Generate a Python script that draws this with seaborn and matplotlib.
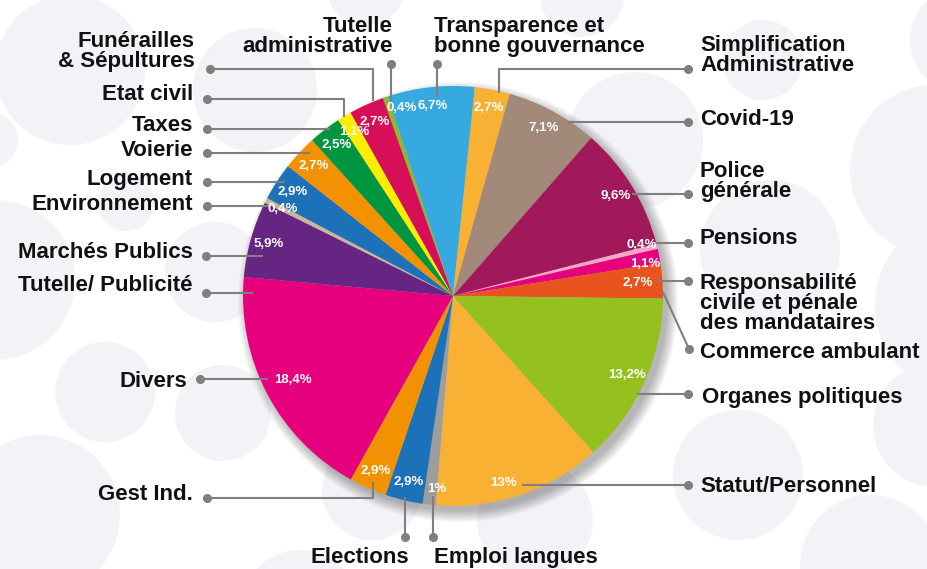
import numpy as np
import matplotlib
matplotlib.use("Agg")
import matplotlib.pyplot as plt
from matplotlib.patches import Circle
import seaborn as sns

# ---------------- data ----------------
categories = [
    "Tutelle\nadministrative", "Transparence et\nbonne gouvernance",
    "Simplification\nAdministrative", "Covid-19", "Police\ngénérale",
    "Pensions", "Commerce ambulant",
    "Responsabilité\ncivile et pénale\ndes mandataires",
    "Organes politiques", "Statut/Personnel", "Emploi langues", "Elections",
    "Gest Ind.", "Divers", "Tutelle/ Publicité", "Marchés Publics",
    "Environnement", "Logement", "Voierie", "Taxes", "Etat civil",
    "Funérailles\n& Sépultures",
]
values = [0.4, 6.7, 2.7, 7.1, 9.6, 0.4, 1.1, 2.7, 13.2, 13.0, 1.0, 2.9,
          2.9, 18.4, 0.0, 5.9, 0.4, 2.9, 2.7, 2.5, 1.1, 2.7]
slice_colors = ["#8DBB25", "#36A9E1", "#F8B133", "#A38979", "#A2195B",
                "#F2A7C6", "#E6007E", "#E9531D", "#95C11F", "#F8B133",
                "#9D9D9C", "#1D71B8", "#F39200", "#E6007E", "#7A2A7E",
                "#662483", "#C9B79C", "#1D71B8", "#F39200", "#009640",
                "#FFED00", "#D60F58"]

# ---------------- layout (pixel coordinates, y from top) ----------------
W, H = 928, 569
CX, CY, R = 453, 296, 210
# text: (x, baseline of LAST line, ha), connector path (dot first)
callouts = {
    "Tutelle\nadministrative": ((393, 52, "right"), [(391, 64), (391, 101)]),
    "Transparence et\nbonne gouvernance": ((434, 52, "left"), [(437, 64), (437, 97)]),
    "Simplification\nAdministrative": ((700, 71, "left"), [(688, 69), (499, 69), (499, 93)]),
    "Covid-19": ((700, 125, "left"), [(688, 122), (567, 122)]),
    "Police\ngénérale": ((700, 197, "left"), [(688, 194), (632, 194)]),
    "Pensions": ((700, 244, "left"), [(688, 243), (655, 243)]),
    "Responsabilité\ncivile et pénale\ndes mandataires": ((700, 329, "left"), [(688, 281), (657, 281)]),
    "Commerce ambulant": ((700, 358, "left"), [(689, 349), (663, 292)]),
    "Organes politiques": ((702, 403, "left"), [(688, 394), (637, 394)]),
    "Statut/Personnel": ((700, 492, "left"), [(688, 485), (522, 485)]),
    "Emploi langues": ((434, 563, "left"), [(433, 537), (433, 496)]),
    "Elections": ((360, 563, "center"), [(405, 537), (405, 497)]),
    "Gest Ind.": ((193, 500, "right"), [(207, 498), (373, 498), (373, 482)]),
    "Divers": ((187, 387, "right"), [(200, 379), (268, 379)]),
    "Tutelle/ Publicité": ((193, 291, "right"), [(206, 293), (253, 293)]),
    "Marchés Publics": ((193, 258, "right"), [(206, 256), (263, 256)]),
    "Environnement": ((193, 210, "right"), [(207, 206), (270, 206)]),
    "Logement": ((193, 185, "right"), [(207, 182), (285, 182)]),
    "Voierie": ((193, 156, "right"), [(207, 153), (310, 153)]),
    "Taxes": ((193, 131, "right"), [(207, 129), (330, 129)]),
    "Etat civil": ((193, 100, "right"), [(207, 99), (344, 99), (344, 117)]),
    "Funérailles\n& Sépultures": ((195, 67, "right"), [(210, 69), (373, 69), (373, 101)]),
}
# percentage-label nudges: (clockwise angle offset in degrees, radius fraction)
pct_nudge = {
    "Tutelle\nadministrative": (3.4, 0.93),
    "Pensions": (-1.5, 0.93),
    "Commerce ambulant": (1.5, 0.93),
    "Responsabilité\ncivile et pénale\ndes mandataires": (0.0, 0.88),
    "Statut/Personnel": (3.5, 0.92),
    "Emploi langues": (-1.8, 0.92),
    "Divers": (0.0, 0.86),
}
bubbles = [(70, 70, 75), (-10, 140, 28), (255, 90, 62), (366, -15, 40),
           (582, -5, 42), (635, 140, 68), (763, 60, 40), (965, 40, 55),
           (935, 170, 85), (770, 250, 70), (965, 305, 90), (105, 392, 50),
           (223, 413, 48), (40, 515, 80), (738, 475, 65), (935, 425, 62),
           (870, 565, 70), (535, 520, 58), (372, 490, 50), (300, 610, 60),
           (215, 272, 50), (126, 203, 28), (-5, 280, 80)]


def Y(y):
    return H - y


sns.set_theme(style="white")
plt.rcParams["font.family"] = ["Liberation Sans", "DejaVu Sans"]
palette = sns.color_palette(slice_colors)

fig = plt.figure(figsize=(W / 100, H / 100), dpi=100)
ax = fig.add_axes([0, 0, 1, 1])

# background bubbles
for bx, by, br in bubbles:
    ax.add_patch(Circle((bx, Y(by)), br, facecolor="#F3F2F6", edgecolor="none", zorder=0))

# soft shadow
for i in range(10):
    ax.add_patch(Circle((CX + 5, Y(CY) - 6), R + 10 - i * 1.2, facecolor="#000000",
                        alpha=0.03, edgecolor="none", zorder=1))

wedges, _ = ax.pie(values, colors=palette, startangle=109.5, counterclock=False,
                   center=(CX, Y(CY)), radius=R, wedgeprops=dict(linewidth=0))
for w in wedges:
    w.set_zorder(2)


def fmt(v):
    return f"{int(v)}%" if float(v).is_integer() else f"{v:.1f}".replace(".", ",") + "%"


# percentage labels
for name, w, v in zip(categories, wedges, values):
    if v <= 0:
        continue
    dang, f = pct_nudge.get(name, (0.0, 0.91))
    mid = np.deg2rad((w.theta1 + w.theta2) / 2 - dang)
    x = CX + R * f * np.cos(mid)
    y = Y(CY) + R * f * np.sin(mid)
    ax.text(x, y, fmt(v), color="white", fontsize=9.5, fontweight="bold",
            ha="center", va="center", zorder=6)

# callouts
for name in categories:
    (tx, ty, ha), path = callouts[name]
    xs = [p[0] for p in path]
    ys = [Y(p[1]) for p in path]
    ax.plot(xs, ys, color="#7F7F7F", lw=1.5, zorder=5, solid_capstyle="butt")
    ax.plot(xs[0], ys[0], "o", color="#7F7F7F", ms=5.5, zorder=5)
    ax.text(tx, Y(ty), name, fontsize=16, fontweight="bold", color="#111111",
            ha=ha, va="baseline", multialignment=ha,
            linespacing=0.95, zorder=6)

ax.set_xlim(0, W)
ax.set_ylim(0, H)
ax.set_aspect("auto")
ax.axis("off")
fig.savefig("out.png", dpi=100, facecolor="white")
